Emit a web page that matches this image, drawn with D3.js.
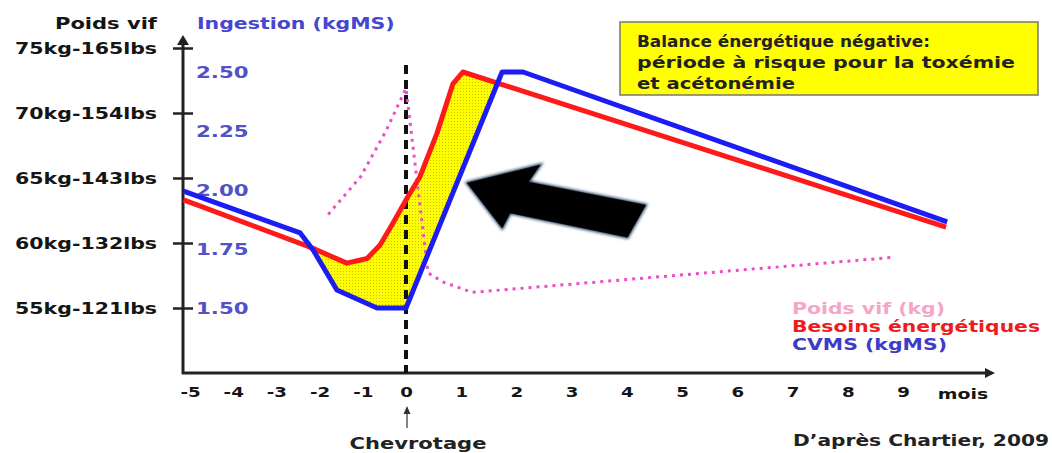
<!DOCTYPE html>
<html><head><meta charset="utf-8">
<script src="https://cdn.jsdelivr.net/npm/d3@7"></script>
<style>
body{margin:0;background:#fff;}
svg{display:block;font-family:"DejaVu Sans",sans-serif;font-weight:bold;}
</style></head><body>
<svg id="c" width="1052" height="453"></svg>
<script>
// ---- data ----
const months = [-5,-4,-3,-2,-1,0,1,2,3,4,5,6,7,8,9];
const weightTicks = [55,60,65,70,75];
const weightTickLabels = ["55kg-121lbs","60kg-132lbs","65kg-143lbs","70kg-154lbs","75kg-165lbs"];
const ingestionTicks = [1.5,1.75,2.0,2.25,2.5];
const ingestionTickLabels = ["1.50","1.75","2.00","2.25","2.50"];

const cvmsMonths = [-5.15,-2.45,-2.15,-1.6,-0.67,0,1.74,2.12,9.8];
const cvmsValues = [1.995,1.818,1.746,1.576,1.5,1.5,2.5,2.5,1.865];
const besoinsMonths = [-5.15,-2.22,-1.37,-0.9,-0.6,-0.3,0.02,0.25,0.56,0.85,1.03,9.78];
const besoinsValues = [1.958,1.758,1.69,1.71,1.767,1.86,1.966,2.055,2.24,2.45,2.5,1.843];
const poidsMonths = [-1.8,-1.05,-0.45,0,0.4,0.67,1.2,8.83];
const poidsValues = [62.2,65.1,68.7,71.9,57.7,57.0,56.2,58.9];

const legendLabels = ["Poids vif (kg)","Besoins énergétiques","CVMS (kgMS)"];
const boxLines = ["Balance énergétique négative:","période à risque pour la toxémie","et acétonémie"];
// arrow annotation (month, kgMS)
const arrowMonths = [1.107,2.43,2.214,4.34,4.01,1.887,1.742];
const arrowValues = [2.03,2.106,2.034,1.936,1.80,1.903,1.839];

// ---- scales ----
const x = d3.scaleLinear().domain([-5,0,9]).range([190,406,903]);
const kg = d3.scaleLinear().domain([55,75]).range([308,48]);
const ing = d3.scaleLinear().domain([1.5,2.5]).range([308,72]);
const AX = 183, AY = 373;

const svg = d3.select("#c");
const defs = svg.append("defs");

function fitW(sel, w){ sel.attr("textLength", w).attr("lengthAdjust","spacingAndGlyphs"); }
function stretch(sel, k){ sel.each(function(){ const w=this.getComputedTextLength(); this.setAttribute("textLength", w*k); this.setAttribute("lengthAdjust","spacingAndGlyphs"); }); }

// pattern
const pat = defs.append("pattern").attr("id","dots").attr("width",3).attr("height",3).attr("patternUnits","userSpaceOnUse");
pat.append("rect").attr("width",3).attr("height",3).attr("fill","#ffff00");
pat.append("rect").attr("x",1).attr("y",1).attr("width",1).attr("height",1).attr("fill","#c8c200");

const redPts = besoinsMonths.map((m,i)=>[m,besoinsValues[i]]);
const bluePts = cvmsMonths.map((m,i)=>[m,cvmsValues[i]]);
const pinkPts = poidsMonths.map((m,i)=>[m,poidsValues[i]]);

defs.append("clipPath").attr("id","belowRed").append("path")
  .attr("d", d3.area().x(d=>x(d[0])).y0(ing(1.2)).y1(d=>ing(d[1]))(redPts));

// yellow fill
svg.append("path")
  .attr("d", d3.area().x(d=>x(d[0])).y0(ing(2.8)).y1(d=>ing(d[1]))(bluePts))
  .attr("fill","url(#dots)").attr("clip-path","url(#belowRed)");

// axes lines
svg.append("line").attr("x1",AX).attr("x2",AX).attr("y1",AY+1).attr("y2",42).attr("stroke","#222").attr("stroke-width",3);
svg.append("path").attr("d",`M${AX},35 L${AX-6},45 L${AX+6},45 Z`).attr("fill","#222");
svg.append("line").attr("x1",AX-1).attr("x2",988).attr("y1",AY).attr("y2",AY).attr("stroke","#222").attr("stroke-width",3);
svg.append("path").attr("d",`M995,${AY} L985,${AY-5} L985,${AY+5} Z`).attr("fill","#222");

// left weight axis
const gL = svg.append("g").attr("transform",`translate(${AX},0)`)
  .call(d3.axisLeft(kg).tickValues(weightTicks).tickFormat((d,i)=>weightTickLabels[i]).tickSize(10).tickPadding(26));
gL.select(".domain").remove();
gL.selectAll(".tick line").attr("x1",-10).attr("x2",10).attr("stroke","#222").attr("stroke-width",2.5);
gL.selectAll(".tick text").attr("x",-26).attr("font-size",16).attr("font-family","DejaVu Sans").attr("font-weight","bold").attr("fill","#151515").call(stretch,1.28);

// right-side ingestion labels
const gR = svg.append("g").attr("transform",`translate(${AX},0)`)
  .call(d3.axisRight(ing).tickValues(ingestionTicks).tickFormat((d,i)=>ingestionTickLabels[i]).tickSize(0).tickPadding(13));
gR.select(".domain").remove();
gR.selectAll(".tick text").attr("font-size",16).attr("font-family","DejaVu Sans").attr("font-weight","bold").attr("fill","#5252c8").call(stretch,1.33);

// x axis labels
const gX = svg.append("g").attr("transform",`translate(0,${AY})`)
  .call(d3.axisBottom(x).tickValues(months).tickFormat(d=>String(d)).tickSize(0).tickPadding(14));
gX.select(".domain").remove();
gX.selectAll(".tick text").attr("font-size",14).attr("font-family","DejaVu Sans").attr("font-weight","bold").attr("fill","#151515").call(stretch,1.3);
svg.append("text").attr("x",963).attr("y",399).attr("text-anchor","middle").attr("font-size",14).attr("fill","#151515").text("mois").call(stretch,1.35);

// axis titles
svg.append("text").attr("x",157).attr("y",29).attr("text-anchor","end").attr("font-size",16).attr("fill","#151515").text("Poids vif").call(fitW,102);
svg.append("text").attr("x",197).attr("y",29).attr("font-size",16).attr("fill","#4646d0").text("Ingestion (kgMS)").call(stretch,1.28);

// vertical dashed line at kidding
svg.append("line").attr("x1",x(0)).attr("x2",x(0)).attr("y1",65).attr("y2",AY)
  .attr("stroke","#111").attr("stroke-width",4).attr("stroke-dasharray","9,6");

// pink dotted weight line
svg.append("path").attr("d", d3.line().x(d=>x(d[0])).y(d=>kg(d[1]))(pinkPts))
  .attr("fill","none").attr("stroke","#f04cc8").attr("stroke-width",3).attr("stroke-dasharray","3,5");

// red & blue lines
svg.append("path").attr("d", d3.line().x(d=>x(d[0])).y(d=>ing(d[1]))(redPts))
  .attr("fill","none").attr("stroke","#ff1a1a").attr("stroke-width",5).attr("stroke-linejoin","round");
svg.append("path").attr("d", d3.line().x(d=>x(d[0])).y(d=>ing(d[1]))(bluePts))
  .attr("fill","none").attr("stroke","#1c1cf5").attr("stroke-width",5).attr("stroke-linejoin","round");

// big arrow
const blur = defs.append("filter").attr("id","bl").attr("x","-20%").attr("y","-20%").attr("width","140%").attr("height","140%");
blur.append("feGaussianBlur").attr("stdDeviation",1.5);
const arrowPts = arrowMonths.map((m,i)=>[x(m),ing(arrowValues[i])]);
const arrowD = "M"+arrowPts.map(p=>p.join(",")).join("L")+"Z";
svg.append("path").attr("d",arrowD).attr("fill","#2b4a6e").attr("stroke","#2b4a6e").attr("stroke-width",3).attr("filter","url(#bl)");
svg.append("path").attr("d",arrowD).attr("fill","#000").attr("stroke","#000").attr("stroke-width",0.5);

// yellow box
svg.append("rect").attr("x",620).attr("y",22).attr("width",418).attr("height",73).attr("fill","#ffff00").attr("stroke","#777").attr("stroke-width",1.5);
const boxW = [293,378,158];
boxLines.forEach((t,i)=>{
  svg.append("text").attr("x",637).attr("y",47+i*21).attr("font-size",15.5).attr("fill","#222").text(t).call(fitW,boxW[i]);
});

// legend
const legCol = ["#f5a6c8","#ee1c1c","#3c3cc8"];
const legW = [153,248,155];
legendLabels.forEach((t,i)=>{
  svg.append("text").attr("x",792).attr("y",314+i*18).attr("font-size",16).attr("fill",legCol[i]).text(t).call(fitW,legW[i]);
});

// Chevrotage annotation
svg.append("line").attr("x1",x(0)+1).attr("x2",x(0)+1).attr("y1",428).attr("y2",412).attr("stroke","#333").attr("stroke-width",1.2);
svg.append("path").attr("d",`M${x(0)+1},406 L${x(0)-2.5},414 L${x(0)+4.5},414 Z`).attr("fill","#333");
svg.append("text").attr("x",418).attr("y",449).attr("text-anchor","middle").attr("font-size",16.5).attr("fill","#222").text("Chevrotage").call(fitW,137);
svg.append("text").attr("x",1049).attr("y",446).attr("text-anchor","end").attr("font-size",16).attr("fill","#222").text("D’après Chartier, 2009").call(fitW,256);
</script>
</body></html>
